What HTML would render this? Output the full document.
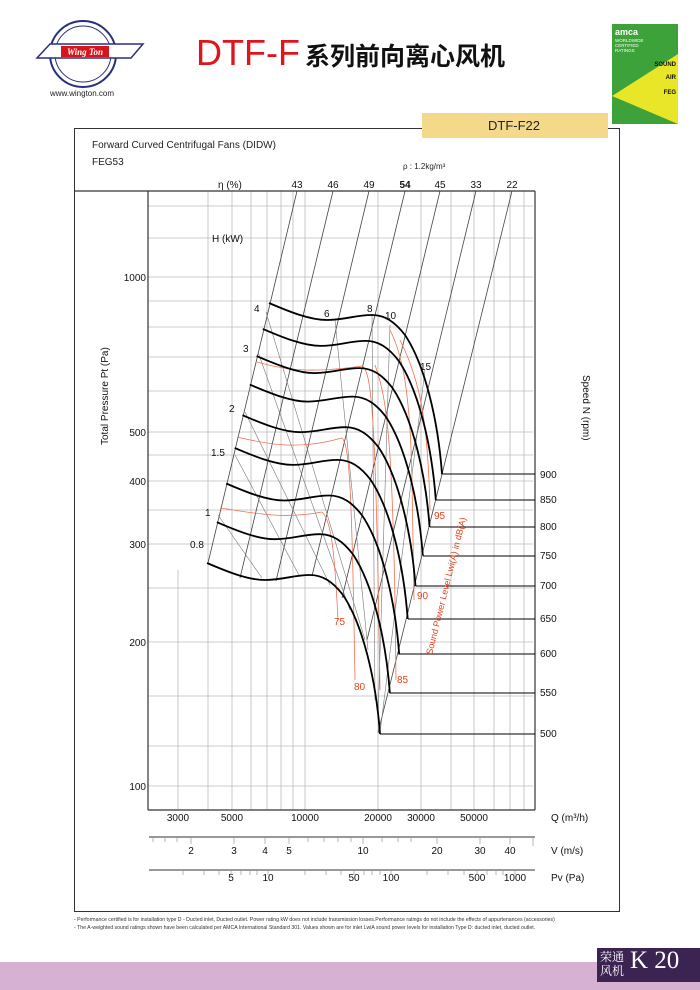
<!DOCTYPE html>
<html><head><meta charset="utf-8"><style>
html,body{margin:0;padding:0;background:#fff}
body{width:700px;height:990px;position:relative;overflow:hidden;font-family:"Liberation Sans","Noto Sans CJK SC",sans-serif}
.a{position:absolute;white-space:nowrap}
</style></head><body>
<svg class="a" style="left:15px;top:18px" width="130" height="72" viewBox="0 0 130 72">
<circle cx="68" cy="36" r="33" fill="none" stroke="#2a2f7a" stroke-width="2"/>
<circle cx="68" cy="36" r="28" fill="none" stroke="#2a2f7a" stroke-width="1"/>
<path d="M22,40 L35,26 L128,26 L116,40 Z" fill="#fff" stroke="#2a2f7a" stroke-width="1.5"/>
<rect x="46" y="28" width="48" height="11" fill="#d8141b"/>
<text x="70" y="37" font-size="9" font-weight="bold" font-style="italic" fill="#fff" text-anchor="middle" font-family="Liberation Serif">Wing Ton</text>
</svg>
<div class="a" style="left:50px;top:89px;font-size:8px;color:#222">www.wington.com</div>
<div class="a" style="left:196px;top:33px;font-size:36px;color:#e0141b;line-height:40px">DTF-F</div>
<div class="a" style="left:305px;top:40px;font-size:25px;font-weight:bold;color:#111;line-height:30px;font-family:'Noto Sans CJK SC',sans-serif">系列前向离心风机</div>
<svg class="a" style="left:612px;top:24px" width="66" height="100" viewBox="0 0 66 100">
<rect width="66" height="100" fill="#e8e627"/>
<polygon points="0,0 66,0 66,30 0,72" fill="#3da23a"/>
<polygon points="0,72 0,100 66,100" fill="#3da23a"/>
<text x="3" y="11" font-size="9" fill="#fff" font-weight="bold">amca</text>
<text x="3" y="18" font-size="4.5" fill="#fff">WORLDWIDE</text>
<text x="3" y="23" font-size="4.5" fill="#fff">CERTIFIED</text>
<text x="3" y="28" font-size="4.5" fill="#fff">RATINGS</text>
<text x="64" y="42" font-size="6" fill="#111" text-anchor="end" font-weight="bold">SOUND</text>
<text x="64" y="55" font-size="6" fill="#111" text-anchor="end" font-weight="bold">AIR</text>
<text x="64" y="70" font-size="6" fill="#111" text-anchor="end" font-weight="bold">FEG</text>
</svg>
<div class="a" style="left:74px;top:128px;width:546px;height:784px;border:1px solid #333;border-top:1.5px solid #333;box-sizing:border-box"></div>
<div class="a" style="left:422px;top:113px;width:186px;height:25px;background:#f5d98a"></div>
<div class="a" style="left:488px;top:118px;font-size:13px;color:#222">DTF-F22</div>
<div class="a" style="left:92px;top:140px;font-size:10px;color:#222">Forward Curved Centrifugal Fans (DIDW)</div>
<div class="a" style="left:92px;top:157px;font-size:10px;color:#222">FEG53</div>
<div class="a" style="left:403px;top:162px;font-size:8px;color:#222">ρ : 1.2kg/m³</div>

<svg class="a" style="left:0;top:0" width="700" height="990" viewBox="0 0 700 990" font-family="Liberation Sans, sans-serif">
<g stroke="#bbb" stroke-width="0.8" fill="none">
<line x1="178" y1="570" x2="178" y2="810"/><line x1="208" y1="191" x2="208" y2="810"/>
<line x1="232" y1="191" x2="232" y2="810"/><line x1="251" y1="191" x2="251" y2="810"/>
<line x1="267" y1="191" x2="267" y2="810"/><line x1="281" y1="191" x2="281" y2="810"/>
<line x1="293" y1="191" x2="293" y2="810"/><line x1="305" y1="191" x2="305" y2="810"/>
<line x1="378" y1="191" x2="378" y2="810"/><line x1="421" y1="191" x2="421" y2="810"/>
<line x1="451" y1="191" x2="451" y2="810"/><line x1="474" y1="191" x2="474" y2="810"/>
<line x1="494" y1="191" x2="494" y2="810"/><line x1="510" y1="191" x2="510" y2="810"/>
<line x1="524" y1="191" x2="524" y2="810"/>
<line x1="148" y1="786" x2="533" y2="786"/><line x1="148" y1="746" x2="533" y2="746"/>
<line x1="148" y1="696" x2="533" y2="696"/>
<line x1="148" y1="642" x2="533" y2="642"/><line x1="148" y1="588" x2="533" y2="588"/>
<line x1="148" y1="544" x2="533" y2="544"/><line x1="148" y1="510" x2="533" y2="510"/>
<line x1="148" y1="481" x2="533" y2="481"/><line x1="148" y1="455" x2="533" y2="455"/>
<line x1="148" y1="432" x2="533" y2="432"/><line x1="148" y1="391" x2="533" y2="391"/>
<line x1="148" y1="357" x2="533" y2="357"/><line x1="148" y1="327" x2="533" y2="327"/>
<line x1="148" y1="301" x2="533" y2="301"/><line x1="148" y1="277" x2="533" y2="277"/>
<line x1="148" y1="238" x2="533" y2="238"/><line x1="148" y1="206" x2="533" y2="206"/>
</g>
<g stroke="#333" stroke-width="1.2" fill="none">
<line x1="74" y1="191" x2="535" y2="191"/>
<line x1="148" y1="191" x2="148" y2="810"/>
<line x1="535" y1="191" x2="535" y2="810"/>
<line x1="148" y1="810" x2="535" y2="810"/>
</g>
<g stroke="#444" stroke-width="0.8" fill="none">
<line x1="297" y1="191" x2="208" y2="563"/>
<line x1="333" y1="191" x2="240" y2="578"/>
<line x1="369" y1="191" x2="276" y2="581"/>
<line x1="405" y1="191" x2="312" y2="576"/>
<line x1="440" y1="191" x2="342" y2="598"/>
<line x1="476" y1="191" x2="367" y2="640"/>
<line x1="512" y1="191" x2="378" y2="733"/>
</g>
<g stroke="#777" stroke-width="0.6" fill="none">
<line x1="266" y1="312" x2="365" y2="640"/>
<line x1="258" y1="352" x2="350" y2="610"/>
<line x1="245" y1="412" x2="330" y2="585"/>
<line x1="235" y1="455" x2="300" y2="577"/>
<line x1="218" y1="515" x2="262" y2="578"/>
<line x1="335" y1="320" x2="368" y2="650"/>
<line x1="372" y1="315" x2="375" y2="700"/>
<line x1="390" y1="325" x2="378" y2="720"/>
<line x1="425" y1="370" x2="380" y2="733"/>
</g>
<g stroke="#f07050" stroke-width="0.8" fill="none">
<path d="M257,362 C290,372 320,372 362,366 C372,370 376,420 380,690"/>
<path d="M237,437 C270,445 300,450 342,438 C350,445 352,500 355,680"/>
<path d="M220,508 C250,512 280,520 322,512 C332,520 335,560 338,620"/>
<path d="M390,330 C400,350 410,380 412,480 L414,600"/>
<path d="M375,365 C388,400 392,450 395,600 L396,680"/>
<path d="M400,340 C420,380 428,420 430,510"/>
</g>
<g stroke="#000" stroke-width="1.8" fill="none">
<path id="c" d="M269,303 C290,312 310,320 327,320 C345,320 355,315 372,315 C385,315 395,322 405,335 C425,365 438,420 442,474"/>
<use href="#c" transform="translate(-6.2,25.9)"/>
<use href="#c" transform="translate(-12.4,53.1)"/>
<use href="#c" transform="translate(-19.2,81.6)"/>
<use href="#c" transform="translate(-26.5,112.2)"/>
<use href="#c" transform="translate(-34.3,144.9)"/>
<use href="#c" transform="translate(-42.8,180.5)"/>
<use href="#c" transform="translate(-52.1,219.2)"/>
<use href="#c" transform="translate(-62,260)"/>
</g>
<g stroke="#000" stroke-width="1" fill="none">
<line x1="442" y1="474" x2="535" y2="474"/>
<line x1="436" y1="500" x2="535" y2="500"/>
<line x1="430" y1="527" x2="535" y2="527"/>
<line x1="423" y1="556" x2="535" y2="556"/>
<line x1="416" y1="586" x2="535" y2="586"/>
<line x1="408" y1="619" x2="535" y2="619"/>
<line x1="399" y1="654" x2="535" y2="654"/>
<line x1="390" y1="693" x2="535" y2="693"/>
<line x1="380" y1="734" x2="535" y2="734"/>
</g>
<g font-size="10" fill="#111">
<text x="540" y="478">900</text><text x="540" y="503">850</text><text x="540" y="530">800</text>
<text x="540" y="559">750</text><text x="540" y="589">700</text><text x="540" y="622">650</text>
<text x="540" y="657">600</text><text x="540" y="696">550</text><text x="540" y="737">500</text>
<text x="146" y="281" text-anchor="end">1000</text><text x="146" y="436" text-anchor="end">500</text>
<text x="146" y="485" text-anchor="end">400</text><text x="146" y="548" text-anchor="end">300</text>
<text x="146" y="646" text-anchor="end">200</text><text x="146" y="790" text-anchor="end">100</text>
<g text-anchor="middle">
<text x="297" y="188">43</text><text x="333" y="188">46</text><text x="369" y="188">49</text>
<text x="405" y="188" font-weight="bold">54</text><text x="440" y="188">45</text><text x="476" y="188">33</text><text x="512" y="188">22</text>
</g>
<text x="218" y="188">η (%)</text>
<text x="212" y="242">H (kW)</text>
<text x="254" y="312">4</text><text x="324" y="317">6</text><text x="367" y="312">8</text><text x="385" y="319">10</text>
<text x="420" y="370">15</text><text x="243" y="352">3</text><text x="229" y="412">2</text>
<text x="211" y="456">1.5</text><text x="205" y="516">1</text><text x="190" y="548">0.8</text>
</g>
<g font-size="10" fill="#e8401c">
<text x="434" y="519">95</text><text x="417" y="599">90</text><text x="397" y="683">85</text>
<text x="354" y="690">80</text><text x="334" y="625">75</text>
<text transform="translate(432,655) rotate(-76)" font-size="9">Sound Power Level Lwi(A) in dB(A)</text>
</g>
<text transform="translate(108,445) rotate(-90)" font-size="10" fill="#111">Total Pressure Pt (Pa)</text>
<text transform="translate(583,375) rotate(90)" font-size="10" fill="#111">Speed N (rpm)</text>
<g font-size="10" fill="#111" text-anchor="middle">
<text x="178" y="821">3000</text><text x="232" y="821">5000</text><text x="305" y="821">10000</text>
<text x="378" y="821">20000</text><text x="421" y="821">30000</text><text x="474" y="821">50000</text>
<text x="191" y="854">2</text><text x="234" y="854">3</text><text x="265" y="854">4</text><text x="289" y="854">5</text>
<text x="363" y="854">10</text><text x="437" y="854">20</text><text x="480" y="854">30</text><text x="510" y="854">40</text>
<text x="231" y="881">5</text><text x="268" y="881">10</text><text x="354" y="881">50</text><text x="391" y="881">100</text>
<text x="477" y="881">500</text><text x="515" y="881">1000</text>
</g>
<g font-size="10" fill="#111">
<text x="551" y="821">Q (m³/h)</text><text x="551" y="854">V (m/s)</text><text x="551" y="881">Pv (Pa)</text>
</g>
<g stroke="#333" stroke-width="1"><line x1="149" y1="837" x2="535" y2="837"/><line x1="149" y1="870" x2="535" y2="870"/></g>
<g stroke="#999" stroke-width="0.7">
<line x1="153" y1="838" x2="153" y2="842"/><line x1="165" y1="838" x2="165" y2="842"/><line x1="177" y1="838" x2="177" y2="842"/><line x1="191" y1="838" x2="191" y2="844"/>
<line x1="234" y1="838" x2="234" y2="844"/><line x1="265" y1="838" x2="265" y2="844"/><line x1="289" y1="838" x2="289" y2="844"/><line x1="308" y1="838" x2="308" y2="842"/>
<line x1="324" y1="838" x2="324" y2="842"/><line x1="338" y1="838" x2="338" y2="842"/><line x1="351" y1="838" x2="351" y2="842"/><line x1="363" y1="838" x2="363" y2="844"/>
<line x1="382" y1="838" x2="382" y2="842"/><line x1="398" y1="838" x2="398" y2="842"/><line x1="411" y1="838" x2="411" y2="842"/><line x1="437" y1="838" x2="437" y2="844"/>
<line x1="480" y1="838" x2="480" y2="844"/><line x1="510" y1="838" x2="510" y2="844"/><line x1="533" y1="838" x2="533" y2="846"/>
<line x1="183" y1="871" x2="183" y2="875"/><line x1="204" y1="871" x2="204" y2="875"/><line x1="219" y1="871" x2="219" y2="875"/><line x1="231" y1="871" x2="231" y2="875"/>
<line x1="241" y1="871" x2="241" y2="875"/><line x1="250" y1="871" x2="250" y2="875"/><line x1="257" y1="871" x2="257" y2="875"/><line x1="268" y1="871" x2="268" y2="875"/>
<line x1="305" y1="871" x2="305" y2="875"/><line x1="326" y1="871" x2="326" y2="875"/><line x1="341" y1="871" x2="341" y2="875"/><line x1="354" y1="871" x2="354" y2="875"/>
<line x1="364" y1="871" x2="364" y2="875"/><line x1="372" y1="871" x2="372" y2="875"/><line x1="380" y1="871" x2="380" y2="875"/><line x1="391" y1="871" x2="391" y2="875"/>
<line x1="427" y1="871" x2="427" y2="875"/><line x1="448" y1="871" x2="448" y2="875"/><line x1="464" y1="871" x2="464" y2="875"/><line x1="477" y1="871" x2="477" y2="875"/>
<line x1="487" y1="871" x2="487" y2="875"/><line x1="496" y1="871" x2="496" y2="875"/><line x1="503" y1="871" x2="503" y2="875"/><line x1="515" y1="871" x2="515" y2="875"/>
</g>
</svg>
<div class="a" style="left:74px;top:916px;font-size:5.2px;color:#333;line-height:8px">- Performance certified is for installation type D - Ducted inlet, Ducted outlet. Power rating kW does not include transmission losses.Performance ratings do not include the effects of appurtenances (accessories)<br>- The A-weighted sound ratings shown have been calculated per AMCA International Standard 301. Values shown are for inlet LwiA sound power levels for installation Type D: ducted inlet, ducted outlet.</div>
<div class="a" style="left:0;top:962px;width:700px;height:28px;background:#d6b1d2"></div>
<div class="a" style="left:597px;top:948px;width:103px;height:34px;background:#3b2352"></div>
<div class="a" style="left:600px;top:950px;font-size:12px;line-height:14px;color:#fff;font-family:'Noto Serif CJK SC',serif">荣通<br>风机</div>
<div class="a" style="left:630px;top:947px;font-size:25px;color:#fff;font-family:'Liberation Serif',serif">K 20</div>
</body></html>
